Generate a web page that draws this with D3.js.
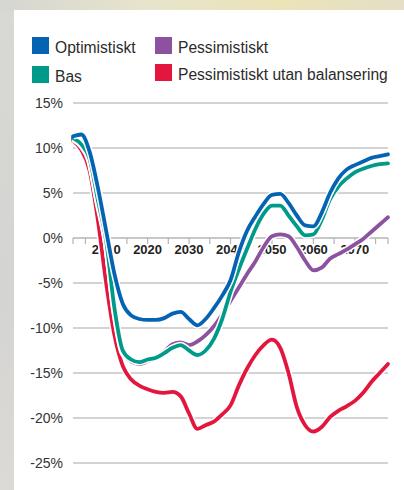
<!DOCTYPE html>
<html>
<head>
<meta charset="utf-8">
<script src="https://cdn.jsdelivr.net/npm/d3@7/dist/d3.min.js"></script>
<style>
body{margin:0;padding:0;overflow:hidden;}
svg{display:block;}
text{font-family:"Liberation Sans",Arial,sans-serif;}
</style>
</head>
<body>
<svg id="chart"></svg>
<script>
const width=404;
const height=490;

const years=[2002,2004,2006,2008,2010,2012,2014,2016,2018,2020,2022,2024,2026,2028,2030,2032,2034,2036,2038,2040,
  2042,2044,2046,2048,2050,2052,2054,2056,2058,2060,2062,2064,2066,2068,2070,2072,2074,2076,2078];

const optimistiskt=[11.3,11.5,9.6,5.6,0.8,-4.0,-7.3,-8.6,-9.0,-9.1,-9.1,-8.9,-8.4,-8.2,-9.0,-9.7,-9.0,-7.8,-6.4,-4.7,
  -1.6,0.8,2.4,3.8,4.8,4.9,3.9,2.5,1.4,1.3,2.8,5.0,6.6,7.6,8.1,8.5,8.9,9.1,9.3];
const bas=[11.1,10.4,8.8,4.2,-0.3,-7.8,-12.5,-13.5,-13.8,-13.5,-13.3,-12.8,-12.2,-11.9,-12.5,-13.0,-12.5,-11.2,-9.0,-6.0,
  -3.5,-1.2,1.0,2.7,3.6,3.6,2.5,1.3,0.3,0.4,2.0,4.3,5.7,6.6,7.3,7.7,8.0,8.2,8.3];
const pessimistiskt=[11.0,10.3,8.6,4.0,-0.5,-8.0,-12.7,-13.7,-14.0,-13.7,-13.3,-12.6,-11.8,-11.6,-11.9,-11.5,-10.8,-9.8,-8.5,-7.0,
  -5.5,-4.0,-2.6,-1.0,0.2,0.4,0.2,-1.0,-2.5,-3.6,-3.3,-2.3,-1.8,-1.3,-0.7,-0.1,0.7,1.5,2.3];
const utanBalansering=[10.8,9.8,7.5,2.0,-5.0,-10.8,-14.2,-15.7,-16.4,-16.8,-17.1,-17.2,-17.1,-17.6,-19.5,-21.2,-20.8,-20.4,-19.6,-18.6,
  -16.4,-14.5,-13.0,-11.9,-11.3,-12.2,-15.0,-18.8,-20.8,-21.5,-21.0,-19.9,-19.2,-18.7,-18.1,-17.2,-16.0,-15.0,-14.0];

const seriesNames=['Optimistiskt','Bas','Pessimistiskt','Pessimistiskt utan balansering'];
const seriesColors=['#0563b4','#009a8a','#8c52a0','#e3173e'];
const yTicks=[15,10,5,0,-5,-10,-15,-20,-25];
const xLabels=[2010,2020,2030,2040,2050,2060,2070];
const xTicks=[2002,2005,2010,2015,2020,2025,2030,2035,2040,2045,2050,2055,2060,2065,2070,2075,2078];

const svg=d3.select('#chart')
  .attr('width',width)
  .attr('height',height);

// blurred photo behind the white panel
const defs=svg.append('defs');
const bg=defs.append('linearGradient').attr('id','bg').attr('x1',0).attr('y1',0).attr('x2',1).attr('y2',0);
bg.append('stop').attr('offset','0%').attr('stop-color','#d6d6d2');
bg.append('stop').attr('offset','35%').attr('stop-color','#e6e4cc');
bg.append('stop').attr('offset','70%').attr('stop-color','#ece3b8');
bg.append('stop').attr('offset','100%').attr('stop-color','#e4dfc6');
const side=defs.append('linearGradient').attr('id','side').attr('x1',0).attr('y1',0).attr('x2',0).attr('y2',1);
side.append('stop').attr('offset','0%').attr('stop-color','#d8d8d4');
side.append('stop').attr('offset','60%').attr('stop-color','#d4d4d2');
side.append('stop').attr('offset','100%').attr('stop-color','#dcdad6');

svg.append('rect').attr('width',width).attr('height',height).attr('fill','url(#side)');
svg.append('rect').attr('width',width).attr('height',12).attr('fill','url(#bg)');
svg.append('rect').attr('x',14).attr('y',10).attr('width',width-14).attr('height',height-10).attr('fill','#fff');

const x=d3.scaleLinear().domain([2002,2078]).range([73,388]);
const y=d3.scaleLinear().domain([-25,15]).range([463,103]);

// gridlines
svg.append('g')
  .selectAll('line')
  .data(yTicks.filter(d=>d!==0))
  .enter().append('line')
  .attr('x1',x(2002)).attr('x2',x(2078))
  .attr('y1',d=>y(d)).attr('y2',d=>y(d))
  .attr('stroke','#c4c4c4')
  .attr('stroke-width',1.5);

svg.append('g')
  .selectAll('text')
  .data(yTicks)
  .enter().append('text')
  .attr('x',63)
  .attr('y',d=>y(d))
  .attr('dy','0.33em')
  .attr('text-anchor','end')
  .attr('font-size',14)
  .attr('fill','#333')
  .text(d=>d+'%');

// zero axis with ticks
const xAxis=svg.append('g').attr('transform','translate(0,'+y(0)+')');
xAxis.append('line')
  .attr('x1',x(2002)).attr('x2',x(2078))
  .attr('stroke','#b4b4b4').attr('stroke-width',1.5);
xAxis.selectAll('.tick')
  .data(xTicks)
  .enter().append('line')
  .attr('class','tick')
  .attr('x1',d=>x(d)).attr('x2',d=>x(d))
  .attr('y1',0).attr('y2',6)
  .attr('stroke','#b4b4b4').attr('stroke-width',1.2);
xAxis.selectAll('text')
  .data(xLabels)
  .enter().append('text')
  .attr('x',d=>x(d))
  .attr('y',16)
  .attr('text-anchor','middle')
  .attr('font-size',13)
  .attr('font-weight','bold')
  .attr('fill','#222')
  .text(d=>d);

// lines, each with a white halo, red first and blue on top
const allSeries=[optimistiskt,bas,pessimistiskt,utanBalansering];
const line=d3.line()
  .x((d,i)=>x(years[i]))
  .y(d=>y(d))
  .curve(d3.curveMonotoneX);

const drawOrder=[3,2,1,0];
drawOrder.forEach(function(k){
  svg.append('path')
    .attr('d',line(allSeries[k]))
    .attr('fill','none')
    .attr('stroke','#fff')
    .attr('stroke-width',6.8)
    .attr('stroke-linejoin','round');
  svg.append('path')
    .attr('d',line(allSeries[k]))
    .attr('fill','none')
    .attr('stroke',seriesColors[k])
    .attr('stroke-width',3.8)
    .attr('stroke-linejoin','round')
    .attr('stroke-linecap','round');
});

// legend
const legendPos=[[32,37],[32,66],[155,37],[155,64]];
const legendOrder=[0,1,2,3];
const legend=svg.append('g')
  .selectAll('g')
  .data(legendOrder)
  .enter().append('g')
  .attr('transform',function(d){ return 'translate('+legendPos[d][0]+','+legendPos[d][1]+')'; });

legend.append('rect')
  .attr('width',17)
  .attr('height',17)
  .attr('fill',d=>seriesColors[d]);

legend.append('text')
  .attr('x',23)
  .attr('y',16)
  .attr('font-size',15.6)
  .attr('fill','#2b2b2b')
  .text(d=>seriesNames[d]);
</script>
</body>
</html>
